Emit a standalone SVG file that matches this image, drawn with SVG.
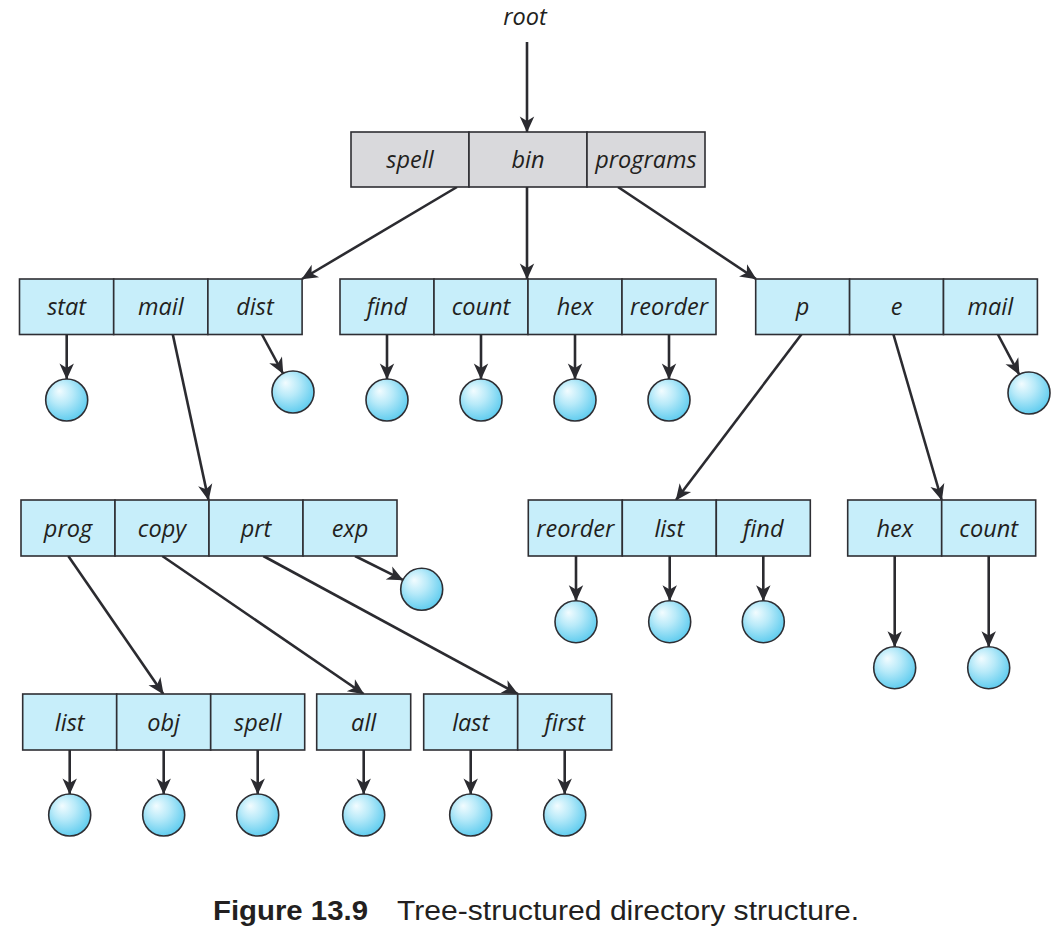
<svg xmlns="http://www.w3.org/2000/svg" width="1064" height="944" viewBox="0 0 1064 944">
<defs>
<radialGradient id="g" cx="0.42" cy="0.38" r="0.62" fx="0.32" fy="0.28">
<stop offset="0" stop-color="#f2fcff"/>
<stop offset="0.45" stop-color="#b8eaf9"/>
<stop offset="1" stop-color="#62cdef"/>
</radialGradient>
<marker id="ah" markerUnits="userSpaceOnUse" markerWidth="20" markerHeight="20" viewBox="-16 -8 18 16" refX="0" refY="0" orient="auto">
<path d="M0.5,0 L-14,-6.5 L-10,0 L-14,6.5 Z" fill="#2b2b30"/>
</marker>
</defs>
<style>
.cell{fill:#c7eefa;stroke:#2e2e33;stroke-width:1.6}
.gray{fill:#d9d9dc;stroke:#2e2e33;stroke-width:1.6}
.lbl{font-family:"Open Sans","Noto Sans",sans-serif;font-style:italic;font-size:23.5px;fill:#231f20;text-anchor:middle}
.conn{stroke:#2b2b30;stroke-width:2.6;fill:none;marker-end:url(#ah)}
.leaf{fill:url(#g);stroke:#2e2e33;stroke-width:1.6}
.cap{font-family:"Liberation Sans",Arial,sans-serif;font-size:27px;fill:#231f20}
</style>
<rect width="1064" height="944" fill="#ffffff"/>

<text class="lbl" x="525" y="25">root</text>

<g id="connectors">
<line class="conn" x1="527" y1="42" x2="527" y2="132"/>
<line class="conn" x1="457" y1="187" x2="302" y2="279"/>
<line class="conn" x1="527" y1="187" x2="527" y2="279"/>
<line class="conn" x1="618" y1="187" x2="756" y2="279"/>
<line class="conn" x1="66.7" y1="334" x2="66.7" y2="379"/>
<line class="conn" x1="172.7" y1="334" x2="208.5" y2="500"/>
<line class="conn" x1="261.7" y1="334" x2="283" y2="373.5"/>
<line class="conn" x1="387" y1="334" x2="387" y2="379"/>
<line class="conn" x1="481" y1="334" x2="481" y2="379"/>
<line class="conn" x1="575" y1="334" x2="575" y2="379"/>
<line class="conn" x1="669" y1="334" x2="669" y2="379"/>
<line class="conn" x1="801.7" y1="334" x2="676" y2="500"/>
<line class="conn" x1="893.3" y1="334" x2="941.7" y2="500"/>
<line class="conn" x1="997.7" y1="334" x2="1019.2" y2="374.5"/>
<line class="conn" x1="576" y1="556" x2="576" y2="600.7"/>
<line class="conn" x1="669.7" y1="556" x2="669.7" y2="600.7"/>
<line class="conn" x1="763.3" y1="556" x2="763.3" y2="600.7"/>
<line class="conn" x1="894.7" y1="556" x2="894.7" y2="646.7"/>
<line class="conn" x1="988.7" y1="556" x2="988.7" y2="646.7"/>
<line class="conn" x1="68.3" y1="556" x2="163.3" y2="694"/>
<line class="conn" x1="162.3" y1="556" x2="363.7" y2="694"/>
<line class="conn" x1="263.3" y1="556" x2="517.7" y2="694"/>
<line class="conn" x1="355" y1="556" x2="402.9" y2="579.9"/>
<line class="conn" x1="69.7" y1="750" x2="69.7" y2="794"/>
<line class="conn" x1="163.7" y1="750" x2="163.7" y2="794"/>
<line class="conn" x1="257.7" y1="750" x2="257.7" y2="794"/>
<line class="conn" x1="363.7" y1="750" x2="363.7" y2="794"/>
<line class="conn" x1="470.7" y1="750" x2="470.7" y2="794"/>
<line class="conn" x1="564.7" y1="750" x2="564.7" y2="794"/>
</g>

<g id="dir-root">
<rect class="gray" x="351" y="132" width="118" height="55"/>
<rect class="gray" x="469" y="132" width="118" height="55"/>
<rect class="gray" x="587" y="132" width="118" height="55"/>
<text class="lbl" x="410" y="168">spell</text>
<text class="lbl" x="528" y="168">bin</text>
<text class="lbl" x="646" y="168">programs</text>
</g>

<g id="dir-spell">
<rect class="cell" x="19.5" y="279" width="94.2" height="55.5"/>
<rect class="cell" x="113.7" y="279" width="94.2" height="55.5"/>
<rect class="cell" x="207.9" y="279" width="94.2" height="55.5"/>
<text class="lbl" x="66.6" y="315">stat</text>
<text class="lbl" x="160.8" y="315">mail</text>
<text class="lbl" x="255" y="315">dist</text>
</g>

<g id="dir-bin">
<rect class="cell" x="340" y="279" width="94" height="55.5"/>
<rect class="cell" x="434" y="279" width="94" height="55.5"/>
<rect class="cell" x="528" y="279" width="94" height="55.5"/>
<rect class="cell" x="622" y="279" width="94" height="55.5"/>
<text class="lbl" x="387" y="315">find</text>
<text class="lbl" x="481" y="315">count</text>
<text class="lbl" x="575" y="315">hex</text>
<text class="lbl" x="669" y="315">reorder</text>
</g>

<g id="dir-programs">
<rect class="cell" x="755.7" y="279" width="93.9" height="55.5"/>
<rect class="cell" x="849.6" y="279" width="93.9" height="55.5"/>
<rect class="cell" x="943.5" y="279" width="93.9" height="55.5"/>
<text class="lbl" x="802.6" y="315">p</text>
<text class="lbl" x="896.5" y="315">e</text>
<text class="lbl" x="990.4" y="315">mail</text>
</g>

<g id="dir-mail">
<rect class="cell" x="21" y="500" width="94" height="56"/>
<rect class="cell" x="115" y="500" width="94" height="56"/>
<rect class="cell" x="209" y="500" width="94" height="56"/>
<rect class="cell" x="303" y="500" width="94" height="56"/>
<text class="lbl" x="68" y="537">prog</text>
<text class="lbl" x="162" y="537">copy</text>
<text class="lbl" x="256" y="537">prt</text>
<text class="lbl" x="350" y="537">exp</text>
</g>

<g id="dir-p">
<rect class="cell" x="528.3" y="500" width="94" height="56"/>
<rect class="cell" x="622.3" y="500" width="94" height="56"/>
<rect class="cell" x="716.3" y="500" width="94" height="56"/>
<text class="lbl" x="575.3" y="537">reorder</text>
<text class="lbl" x="669.3" y="537">list</text>
<text class="lbl" x="763.3" y="537">find</text>
</g>

<g id="dir-e">
<rect class="cell" x="847.7" y="500" width="94" height="56"/>
<rect class="cell" x="941.7" y="500" width="94" height="56"/>
<text class="lbl" x="894.7" y="537">hex</text>
<text class="lbl" x="988.7" y="537">count</text>
</g>

<g id="dir-prog">
<rect class="cell" x="22.7" y="694" width="94" height="56"/>
<rect class="cell" x="116.7" y="694" width="94" height="56"/>
<rect class="cell" x="210.7" y="694" width="94" height="56"/>
<text class="lbl" x="69.7" y="731">list</text>
<text class="lbl" x="163.7" y="731">obj</text>
<text class="lbl" x="257.7" y="731">spell</text>
</g>

<g id="dir-copy">
<rect class="cell" x="316.7" y="694" width="94" height="56"/>
<text class="lbl" x="363.7" y="731">all</text>
</g>

<g id="dir-prt">
<rect class="cell" x="423.7" y="694" width="94" height="56"/>
<rect class="cell" x="517.7" y="694" width="94" height="56"/>
<text class="lbl" x="470.7" y="731">last</text>
<text class="lbl" x="564.7" y="731">first</text>
</g>

<g id="file-stat"><circle class="leaf" cx="66.7" cy="400" r="21"/></g>
<g id="file-dist"><circle class="leaf" cx="293" cy="392" r="21"/></g>
<g id="file-find"><circle class="leaf" cx="387" cy="400" r="21"/></g>
<g id="file-count"><circle class="leaf" cx="481" cy="400" r="21"/></g>
<g id="file-hex"><circle class="leaf" cx="575" cy="400" r="21"/></g>
<g id="file-reorder"><circle class="leaf" cx="669" cy="400" r="21"/></g>
<g id="file-programs-mail"><circle class="leaf" cx="1029" cy="393" r="21"/></g>
<g id="file-exp"><circle class="leaf" cx="421.7" cy="589.3" r="21"/></g>
<g id="file-p-reorder"><circle class="leaf" cx="576" cy="621.7" r="21"/></g>
<g id="file-p-list"><circle class="leaf" cx="669.7" cy="621.7" r="21"/></g>
<g id="file-p-find"><circle class="leaf" cx="763.3" cy="621.7" r="21"/></g>
<g id="file-e-hex"><circle class="leaf" cx="894.7" cy="667.7" r="21"/></g>
<g id="file-e-count"><circle class="leaf" cx="988.7" cy="667.7" r="21"/></g>
<g id="file-prog-list"><circle class="leaf" cx="69.7" cy="815" r="21"/></g>
<g id="file-prog-obj"><circle class="leaf" cx="163.7" cy="815" r="21"/></g>
<g id="file-prog-spell"><circle class="leaf" cx="257.7" cy="815" r="21"/></g>
<g id="file-copy-all"><circle class="leaf" cx="363.7" cy="815" r="21"/></g>
<g id="file-prt-last"><circle class="leaf" cx="470.7" cy="815" r="21"/></g>
<g id="file-prt-first"><circle class="leaf" cx="564.7" cy="815" r="21"/></g>

<g id="caption">
<text class="cap" x="213" y="920" font-weight="bold" textLength="155" lengthAdjust="spacingAndGlyphs">Figure 13.9</text>
<text class="cap" x="397" y="920" textLength="462" lengthAdjust="spacingAndGlyphs">Tree-structured directory structure.</text>
</g>
</svg>
